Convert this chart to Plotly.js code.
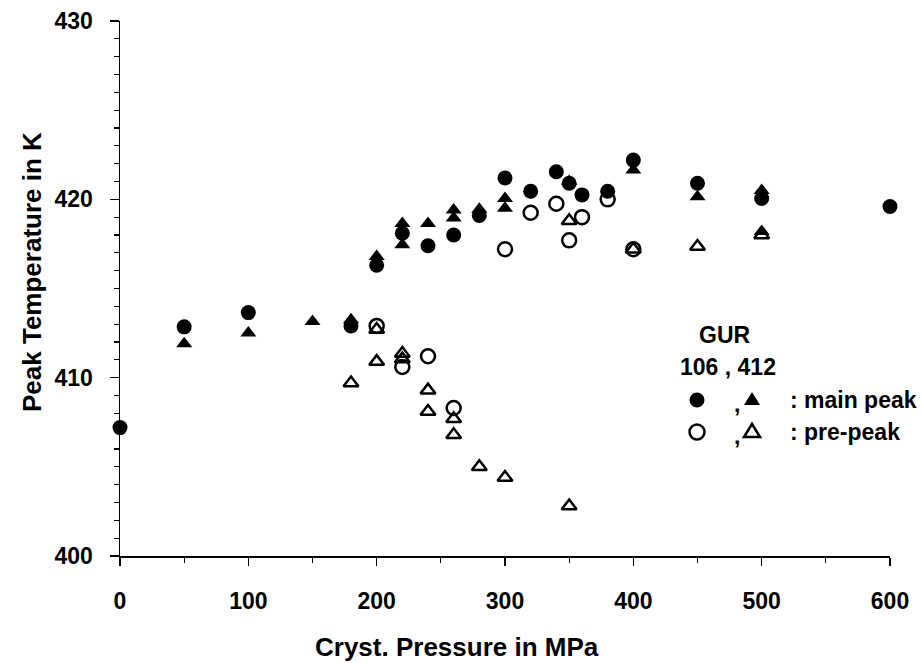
<!DOCTYPE html>
<html>
<head>
<meta charset="utf-8">
<script src="https://cdn.plot.ly/plotly-3.0.1.min.js"></script>
<style>html,body{margin:0;padding:0;background:#fff;}#chart{width:922px;height:663px;}</style>
</head>
<body>
<div id="chart"></div>
<script>
// GUR 106 (circles) and GUR 412 (triangles); filled = main peak, open = pre-peak
const circMainX = [0, 50, 100, 180, 200, 220, 240, 260, 280, 300, 320, 340, 350, 360, 380, 400, 450, 500, 600];
const circMainY = [407.2, 412.85, 413.65, 412.9, 416.3, 418.1, 417.4, 418.0, 419.1, 421.2, 420.45, 421.55, 420.9, 420.25, 420.45, 422.2, 420.9, 420.05, 419.6];

const triMainX = [50, 100, 150, 180, 200, 220, 220, 240, 260, 260, 280, 300, 300, 350, 400, 450, 500, 500];
const triMainY = [411.9, 412.5, 413.15, 413.25, 416.8, 418.65, 417.45, 418.65, 419.4, 418.95, 419.45, 420.05, 419.5, 421.0, 421.65, 420.15, 420.5, 418.2];

const circPreX = [200, 220, 240, 260, 300, 320, 340, 350, 360, 380, 400];
const circPreY = [412.9, 410.6, 411.2, 408.3, 417.2, 419.25, 419.75, 417.7, 419.0, 420.0, 417.2];

const triPreX = [180, 200, 200, 220, 220, 240, 240, 260, 260, 280, 300, 350, 350, 400, 450, 500];
const triPreY = [409.7, 412.7, 410.9, 411.35, 411.05, 409.3, 408.1, 407.7, 406.8, 405.0, 404.4, 402.8, 418.8, 417.2, 417.35, 418.0];

const xTicks = [0, 100, 200, 300, 400, 500, 600];
const yTicks = [400, 410, 420, 430];

const FONT = "'Liberation Sans', Arial, sans-serif";

const traces = [
  {x: circPreX, y: circPreY, type: 'scatter', mode: 'markers', name: 'GUR 106 pre-peak',
   marker: {symbol: 'circle-open', size: 14, color: '#000', line: {width: 2.5, color: '#000'}}},
  {x: triPreX, y: triPreY, type: 'scatter', mode: 'markers', name: 'GUR 412 pre-peak',
   marker: {symbol: 'triangle-up-open', size: 13, color: '#000', line: {width: 2.5, color: '#000'}}},
  {x: circMainX, y: circMainY, type: 'scatter', mode: 'markers', name: 'GUR 106 main peak',
   marker: {symbol: 'circle', size: 15, color: '#000'}},
  {x: triMainX, y: triMainY, type: 'scatter', mode: 'markers', name: 'GUR 412 main peak',
   marker: {symbol: 'triangle-up', size: 14, color: '#000'}}
];
traces.forEach(t => { t.cliponaxis = false; t.hoverinfo = 'x+y'; });

const ann = (text, x, y, xanchor, size) => ({
  text: text, x: x, y: y, xref: 'paper', yref: 'paper', xanchor: xanchor || 'center', yanchor: 'middle',
  showarrow: false, font: {family: FONT, size: size || 23, color: '#000', weight: 'bold'}
});
// paper coords: plot area x 120..890, y 21..556
const px = v => (v - 120) / 770;
const py = v => (556 - v) / 535;

// legend marker shapes (pixel-sized, anchored in paper coords)
const circShape = (cx, cy, filled) => ({
  type: 'circle', xref: 'paper', yref: 'paper', xsizemode: 'pixel', ysizemode: 'pixel',
  xanchor: px(cx), yanchor: py(cy), x0: -7.5, x1: 7.5, y0: -7.5, y1: 7.5,
  fillcolor: filled ? '#000' : 'rgba(0,0,0,0)', line: {color: '#000', width: filled ? 0 : 2.5}
});
const triShape = (cx, cy, filled) => ({
  type: 'path', xref: 'paper', yref: 'paper', xsizemode: 'pixel', ysizemode: 'pixel',
  xanchor: px(cx), yanchor: py(cy), path: 'M-8,-6 L8,-6 L0,7 Z',
  fillcolor: filled ? '#000' : 'rgba(0,0,0,0)', line: {color: '#000', width: filled ? 0 : 2.5}
});

const layout = {
  width: 922, height: 663,
  margin: {l: 120, r: 32, t: 21, b: 107},
  paper_bgcolor: '#fff', plot_bgcolor: '#fff',
  showlegend: false,
  font: {family: FONT, color: '#000'},
  xaxis: {
    range: [0, 600], tickvals: xTicks, ticktext: xTicks.map(String),
    showline: true, linecolor: '#000', linewidth: 1.5, mirror: false,
    ticks: 'outside', ticklen: 8, tickwidth: 1.5, tickcolor: '#000',
    minor: {dtick: 50, ticks: 'outside', ticklen: 5, tickwidth: 1.2, tickcolor: '#000'},
    showgrid: false, zeroline: false,
    tickfont: {family: FONT, size: 23, color: '#000', weight: 'bold'},
    ticklabelstandoff: 16
  },
  yaxis: {
    range: [400, 430], tickvals: yTicks, ticktext: yTicks.map(String),
    showline: true, linecolor: '#000', linewidth: 1.5, mirror: false,
    ticks: 'outside', ticklen: 9, tickwidth: 1.5, tickcolor: '#000',
    minor: {dtick: 1, ticks: 'outside', ticklen: 5, tickwidth: 1.2, tickcolor: '#000'},
    showgrid: false, zeroline: false,
    tickfont: {family: FONT, size: 23, color: '#000', weight: 'bold'},
    ticklabelstandoff: 12
  },
  shapes: [
    circShape(697, 400, true), triShape(752, 399, true),
    circShape(697, 432, false), triShape(752, 431, false)
  ],
  annotations: [
    ann('Cryst. Pressure in MPa', px(457), py(647), 'center', 26),
    Object.assign(ann('Peak Temperature in K', px(32), py(272), 'center', 26), {textangle: -90}),
    ann('GUR', px(725), py(335), 'center', 23),
    ann('106 , 412', px(728), py(367), 'center', 23),
    ann(',', px(737), py(404), 'center', 23),
    ann(': main peak', px(788), py(400), 'left', 23),
    ann(',', px(737), py(436), 'center', 23),
    ann(': pre-peak', px(788), py(432), 'left', 23)
  ]
};

Plotly.newPlot('chart', traces, layout, {staticPlot: true, displayModeBar: false});
</script>
</body>
</html>
